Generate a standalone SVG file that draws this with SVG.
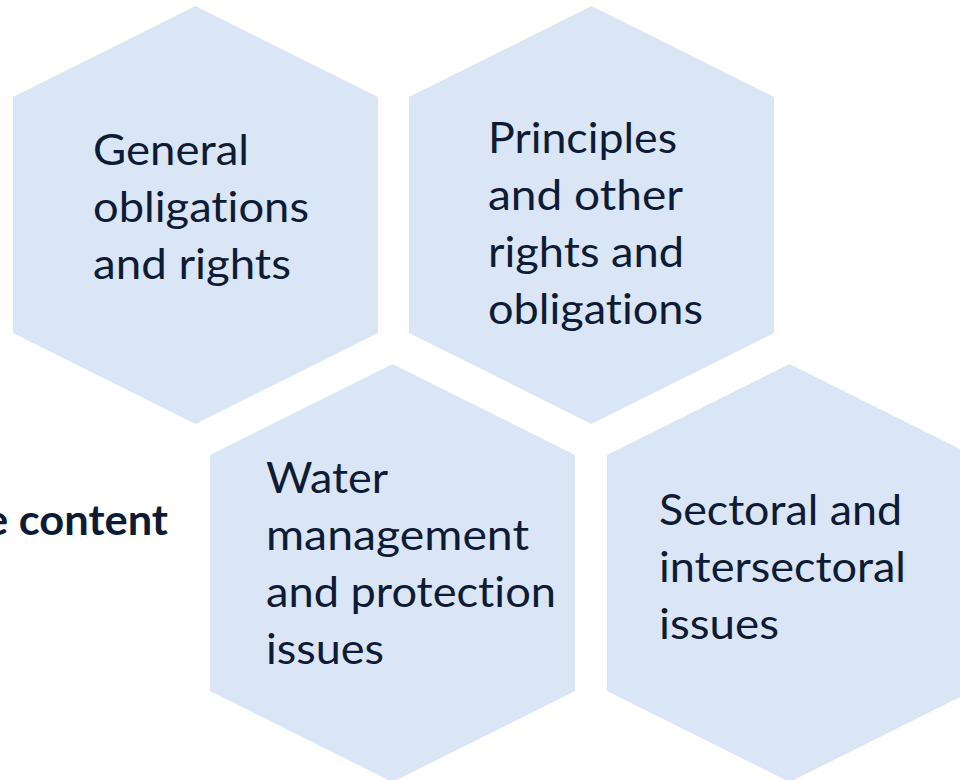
<svg xmlns="http://www.w3.org/2000/svg" width="960" height="780" viewBox="0 0 960 780">
  <defs>
    <style>
      .hex { fill: #DAE5F5; stroke: none; }
      .lbl { font-family: Lato, "Open Sans", "Liberation Sans", sans-serif; font-size: 42px; fill: #0E1B34; font-variant-ligatures: none; font-feature-settings: "liga" 0, "dlig" 0; }
      .side { font-family: Lato, "Open Sans", "Liberation Sans", sans-serif; font-size: 42px; font-weight: bold; fill: #0E1B34; font-variant-ligatures: none; font-feature-settings: "liga" 0; }
    </style>
    <polygon id="hexShape" points="0,-209 182.5,-118 182.5,118 0,209 -182.5,118 -182.5,-118"/>
  </defs>
  <rect width="960" height="780" fill="#FFFFFF"/>

  <g id="title">
    <text class="side" x="-15" y="535" textLength="183" lengthAdjust="spacingAndGlyphs">e content</text>
  </g>

  <g id="connectors"></g>

  <g id="node-general">
    <use href="#hexShape" class="hex" transform="translate(195.5,215)"/>
    <text class="lbl" x="93" y="165" textLength="156" lengthAdjust="spacingAndGlyphs">General</text>
    <text class="lbl" x="93" y="222" textLength="216" lengthAdjust="spacingAndGlyphs">obligations</text>
    <text class="lbl" x="93" y="279" textLength="198" lengthAdjust="spacingAndGlyphs">and rights</text>
  </g>

  <g id="node-principles">
    <use href="#hexShape" class="hex" transform="translate(591.5,215)"/>
    <text class="lbl" x="488" y="153" textLength="189" lengthAdjust="spacingAndGlyphs">Principles</text>
    <text class="lbl" x="488" y="210" textLength="195" lengthAdjust="spacingAndGlyphs">and other</text>
    <text class="lbl" x="488" y="267" textLength="196" lengthAdjust="spacingAndGlyphs">rights and</text>
    <text class="lbl" x="488" y="324" textLength="215" lengthAdjust="spacingAndGlyphs">obligations</text>
  </g>

  <g id="node-water">
    <use href="#hexShape" class="hex" transform="translate(392.5,573)"/>
    <text class="lbl" x="266" y="493" textLength="122" lengthAdjust="spacingAndGlyphs">Water</text>
    <text class="lbl" x="266" y="550" textLength="263" lengthAdjust="spacingAndGlyphs">management</text>
    <text class="lbl" x="266" y="607" textLength="290" lengthAdjust="spacingAndGlyphs">and protection</text>
    <text class="lbl" x="266" y="664" textLength="118" lengthAdjust="spacingAndGlyphs">issues</text>
  </g>

  <g id="node-sectoral">
    <use href="#hexShape" class="hex" transform="translate(789.5,573)"/>
    <text class="lbl" x="659" y="525" textLength="243" lengthAdjust="spacingAndGlyphs">Sectoral and</text>
    <text class="lbl" x="659" y="582" textLength="247" lengthAdjust="spacingAndGlyphs">intersectoral</text>
    <text class="lbl" x="659" y="639" textLength="120" lengthAdjust="spacingAndGlyphs">issues</text>
  </g>
</svg>
